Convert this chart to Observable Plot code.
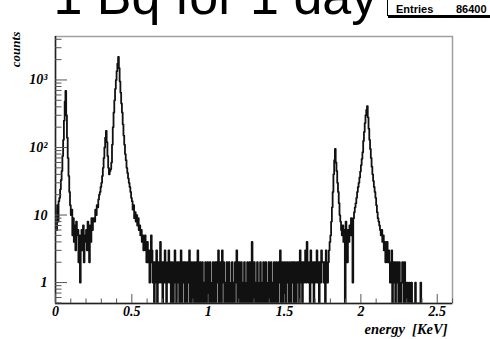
<!DOCTYPE html>
<html><head><meta charset="utf-8">
<script src="https://cdn.jsdelivr.net/npm/d3@7"></script>
<script src="https://cdn.jsdelivr.net/npm/@observablehq/plot@0.6"></script>
<style>
body{margin:0;background:#fff;}
#wrap{position:relative;width:490px;height:339px;overflow:hidden;background:#fff;}
#stats{position:absolute;left:387px;top:-5px;width:112px;height:19px;border:1px solid #000;box-shadow:1px 2px 0 #000;background:#fff;font:bold 11px "Liberation Sans",Arial,sans-serif;color:#000;}
#stats .k{position:absolute;left:8px;top:7px;}
#stats .v{position:absolute;left:68px;top:7px;}
</style></head>
<body><div id="wrap"><div id="chart"></div>
<div id="stats"><span class="k">Entries</span><span class="v">86400</span></div></div>
<script>
const TITLE = "1 Bq for 1 day";
const BIN_WIDTH = 0.005; // keV
// counts per bin, 0.000 - 0.100 keV
const countsLowPeak = [12,6,14,8,16,18,24,33,45,75,130,250,480,690,300,140,70,38,22,14];
// 0.100 - 0.650 keV
const countsMainPeaks = [
 10,12,5,9,4,7,3,8,5,6,
 2,5,1,4,6,3,7,2,5,4,
 6,3,8,5,2,7,4,9,6,8,
 9,8,12,10,14,13,17,20,22,26,
 30,38,50,70,100,140,176,120,75,50,
 40,45,48,60,110,200,330,500,740,1000,
 1350,1750,2200,1500,950,650,450,330,220,150,
 110,80,65,50,42,35,30,26,22,18,
 16,12,14,9,11,8,10,7,9,6,
 7,5,6,4,5,3,4,5,3,2,
 4,2,3,1,2,5,3,1,2,0];
// 0.650 - 1.800 keV
const countsPlateau = [
 2,1,3,0,2,1,2,4,1,2,
 0,2,1,3,2,0,1,2,3,1,
 2,0,2,1,0,2,3,1,0,2,
 1,2,0,1,3,0,2,1,2,0,
 2,1,0,2,1,3,0,1,2,0,
 1,2,0,1,2,0,3,1,0,2,
 0,1,2,0,1,0,2,1,0,2,
 1,0,2,1,0,1,2,0,1,2,
 0,2,1,3,0,1,2,0,3,1,
 2,0,1,0,2,1,0,2,1,0,
 1,2,0,1,0,2,1,3,0,1,
 2,0,1,2,0,1,0,2,1,0,
 1,2,0,1,2,0,1,4,0,1,
 2,0,1,0,2,1,0,1,2,0,
 1,0,2,1,0,2,1,0,1,2,
 0,1,2,0,1,0,2,1,0,2,
 1,0,2,1,3,0,1,2,0,1,
 2,0,1,2,1,0,2,1,0,2,
 1,2,0,2,1,0,2,1,2,0,
 3,1,2,0,2,1,2,3,1,4,
 2,1,2,0,3,2,1,2,0,2,
 1,2,3,1,2,0,2,1,3,2,
 2,1,2,0,3,2,1,2,3,4];
// 1.800 - 2.400 keV
const countsHighPeaks = [
 5,8,13,22,40,65,95,60,45,30,
 22,15,10,8,6,5,7,4,6,0,
 8,5,2,6,4,7,5,9,6,1,
 9,11,13,15,18,22,26,30,36,44,
 55,68,85,125,170,230,300,360,410,280,
 190,130,95,70,52,40,32,26,22,18,
 14,11,9,8,7,6,5,6,4,5,
 3,4,2,3,4,2,3,2,1,2,
 3,0,2,1,2,0,1,2,1,0,
 2,1,0,1,2,1,0,2,1,0,
 1,0,0,1,0,0,1,0,0,0,
 0,1,0,0,0,0,0,0,1,0];

const X_DOMAIN = [0, 2.6];
const Y_DOMAIN = [0.49, 4400];
const xMajorTicks = [0, 0.5, 1, 1.5, 2, 2.5];
const xTickLabels = ["0", "0.5", "1", "1.5", "2", "2.5"];
const xMinorTicks = [0.1,0.2,0.3,0.4,0.6,0.7,0.8,0.9,1.1,1.2,1.3,1.4,1.6,1.7,1.8,1.9,2.1,2.2,2.3,2.4,2.6];
const yMajorTicks = [1, 10, 100, 1000];
const yTickLabels = ["1", "10", "10\u00b2", "10\u00b3"];
const yMinorTicks = [0.5,0.6,0.7,0.8,0.9,2,3,4,5,6,7,8,9,20,30,40,50,60,70,80,90,200,300,400,500,600,700,800,900,2000,3000,4000];
const X_LABEL = "energy\u00a0\u00a0[KeV]";
const Y_LABEL = "counts";

const counts = [].concat(countsLowPeak, countsMainPeaks, countsPlateau, countsHighPeaks);
const bins = counts.map((c, i) => ({x: i * BIN_WIDTH, count: c}));
bins.push({x: counts.length * BIN_WIDTH, count: 0});

const serif = "'Liberation Serif','Times New Roman',serif";
const tickFont = {fontFamily: serif, fontWeight: "bold", fontStyle: "italic", fontSize: 14};

const chart = Plot.plot({
  width: 490, height: 339,
  marginLeft: 55, marginRight: 38, marginTop: 36, marginBottom: 36,
  style: {background: "transparent", fontFamily: serif, overflow: "visible"},
  x: {domain: X_DOMAIN},
  y: {type: "log", domain: Y_DOMAIN},
  marks: [
    Plot.line(bins, {x: "x", y: d => d.count > 0 ? d.count : Y_DOMAIN[0], curve: "step-after", stroke: "#111", strokeWidth: 1.8, clip: true}),
    Plot.frame({stroke: "#a0a0a0", strokeWidth: 1.5}),
    Plot.ruleX([X_DOMAIN[0]], {stroke: "#222", strokeWidth: 1.5}),
    Plot.ruleY([Y_DOMAIN[0]], {stroke: "#222", strokeWidth: 1.5}),
    Plot.axisY(yMinorTicks, {anchor: "left", tickSize: -6.5, tickFormat: () => "", stroke: "#555", label: null}),
    Plot.axisY(yMajorTicks, {anchor: "left", tickSize: -12, tickPadding: 20, tickFormat: d => yTickLabels[yMajorTicks.indexOf(d)], stroke: "#555", fill: "#000", label: null, ...tickFont}),
    Plot.axisX(xMinorTicks, {anchor: "bottom", tickSize: -4.5, tickFormat: () => "", stroke: "#555", label: null}),
    Plot.axisX(xMajorTicks, {anchor: "bottom", tickSize: -9, tickPadding: 12, tickFormat: d => xTickLabels[xMajorTicks.indexOf(d)], stroke: "#555", fill: "#000", label: null, ...tickFont}),
    Plot.text([X_LABEL], {text: d => d, frameAnchor: "bottom-right", textAnchor: "end", lineAnchor: "bottom", dx: -5, dy: 30, fontFamily: serif, fontWeight: "bold", fontStyle: "italic", fontSize: 14.5, fill: "#000"}),
    Plot.text([Y_LABEL], {text: d => d, frameAnchor: "top-left", textAnchor: "middle", lineAnchor: "middle", rotate: -90, dx: -40, dy: 13, fontFamily: serif, fontWeight: "bold", fontStyle: "italic", fontSize: 13, fill: "#000"}),
    Plot.text([TITLE], {text: d => d, frameAnchor: "top-left", textAnchor: "start", lineAnchor: "bottom", dx: -2, dy: -23, fontFamily: "'Liberation Sans',Arial,sans-serif", fontSize: 52, fill: "#000"})
  ]
});
document.getElementById("chart").appendChild(chart);
</script>
</body></html>
